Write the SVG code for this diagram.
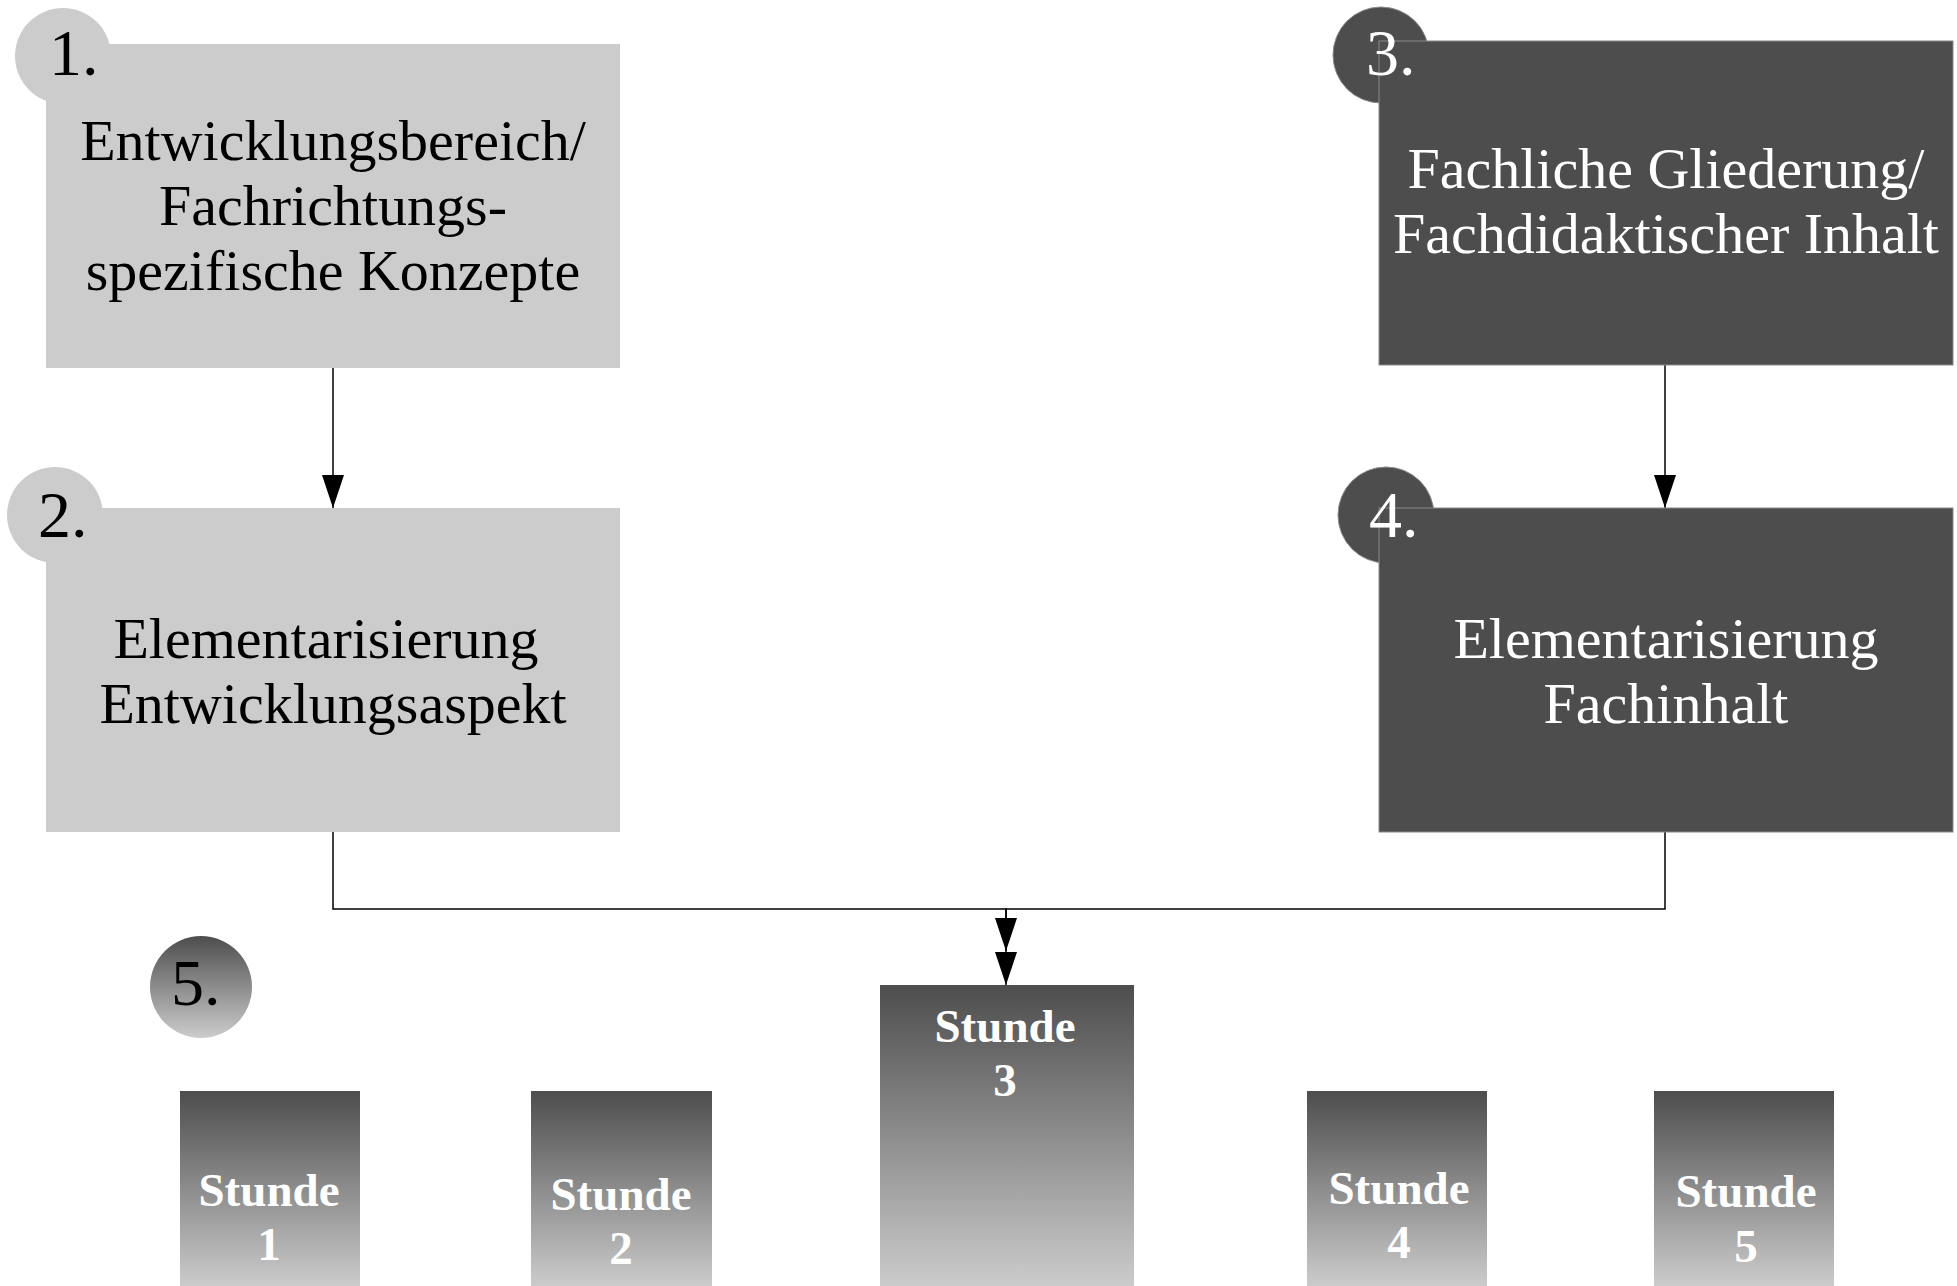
<svg xmlns="http://www.w3.org/2000/svg" width="1957" height="1286" viewBox="0 0 1957 1286">
<style>
.light{fill:#cccccc}
.dark{fill:#4d4d4d;stroke:#8a8a8a;stroke-width:1}
.num{font-family:"Liberation Serif","Times New Roman",serif;font-size:66px}
.main{font-family:"Liberation Serif","Times New Roman",serif;font-size:58px;text-anchor:middle}
.st{font-family:"Liberation Serif","Times New Roman",serif;font-size:47px;font-weight:bold;fill:#ffffff;text-anchor:middle}
.blk{fill:#000000}
.wht{fill:#ffffff}
.conn{fill:none;stroke:#000000;stroke-width:1.5}
</style>
<defs>
<linearGradient id="grad" x1="0" y1="0" x2="0" y2="1">
<stop offset="0" stop-color="#4d4d4d"/>
<stop offset="1" stop-color="#cccccc"/>
</linearGradient>
<marker id="arr" markerWidth="33" markerHeight="22" refX="33" refY="11" orient="auto" markerUnits="userSpaceOnUse">
<path d="M0,0 L33,11 L0,22 z" fill="#000000"/>
</marker>
</defs>
<rect width="1957" height="1286" fill="#ffffff"/>

<g id="connectors">
<path class="conn" d="M333,368 V508" marker-end="url(#arr)"/>
<path class="conn" d="M1665,365 V508" marker-end="url(#arr)"/>
<path class="conn" d="M333,832 V909 H1006 V985" marker-end="url(#arr)"/>
<path class="conn" d="M1665,832 V909 H1006 V951" marker-end="url(#arr)"/>
</g>

<g id="node1">
<circle class="light" cx="63" cy="56" r="48"/>
<rect class="light" x="46" y="44" width="574" height="324"/>
<text class="num blk" x="49" y="75">1.</text>
<text class="main blk"><tspan x="333" y="160">Entwicklungsbereich/</tspan><tspan x="333" y="225">Fachrichtungs-</tspan><tspan x="333" y="290">spezifische Konzepte</tspan></text>
</g>

<g id="node2">
<circle class="light" cx="55" cy="515" r="48"/>
<rect class="light" x="46" y="508" width="574" height="324"/>
<text class="num blk" x="38" y="537">2.</text>
<text class="main blk"><tspan x="326" y="658">Elementarisierung</tspan><tspan x="333" y="723">Entwicklungsaspekt</tspan></text>
</g>

<g id="node3">
<circle class="dark" cx="1381" cy="55" r="48" stroke="none"/>
<rect class="dark" x="1379" y="41" width="574" height="324"/>
<text class="num wht" x="1366" y="75">3.</text>
<text class="main wht"><tspan x="1666" y="188">Fachliche Gliederung/</tspan><tspan x="1666" y="253">Fachdidaktischer Inhalt</tspan></text>
</g>

<g id="node4">
<circle class="dark" cx="1386" cy="515" r="48" stroke="none"/>
<rect class="dark" x="1379" y="508" width="574" height="324"/>
<text class="num wht" x="1369" y="537">4.</text>
<text class="main wht"><tspan x="1666" y="658">Elementarisierung</tspan><tspan x="1666" y="723">Fachinhalt</tspan></text>
</g>

<g id="node5">
<circle cx="201" cy="987" r="51" fill="url(#grad)"/>
<text class="num blk" x="171" y="1005">5.</text>
</g>

<g id="stunde1">
<rect x="180" y="1091" width="180" height="196" fill="url(#grad)"/>
<text class="st"><tspan x="269" y="1206">Stunde</tspan><tspan x="269" y="1260">1</tspan></text>
</g>

<g id="stunde2">
<rect x="531" y="1091" width="181" height="196" fill="url(#grad)"/>
<text class="st"><tspan x="621" y="1210">Stunde</tspan><tspan x="621" y="1264">2</tspan></text>
</g>

<g id="stunde3">
<rect x="880" y="985" width="254" height="302" fill="url(#grad)"/>
<text class="st"><tspan x="1005" y="1042">Stunde</tspan><tspan x="1005" y="1096">3</tspan></text>
</g>

<g id="stunde4">
<rect x="1307" y="1091" width="180" height="196" fill="url(#grad)"/>
<text class="st"><tspan x="1399" y="1204">Stunde</tspan><tspan x="1399" y="1258">4</tspan></text>
</g>

<g id="stunde5">
<rect x="1654" y="1091" width="180" height="196" fill="url(#grad)"/>
<text class="st"><tspan x="1746" y="1207">Stunde</tspan><tspan x="1746" y="1262">5</tspan></text>
</g>
</svg>
